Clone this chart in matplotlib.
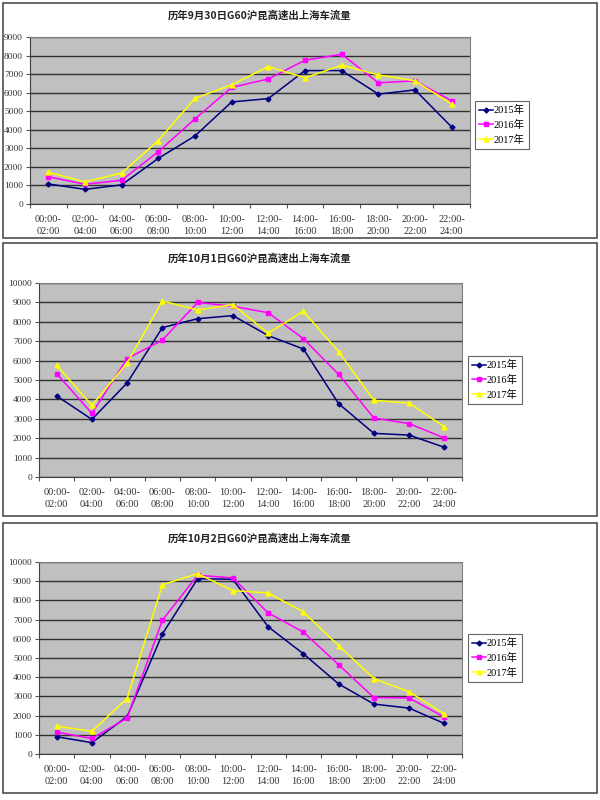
import matplotlib
matplotlib.use("Agg")
import matplotlib.pyplot as plt
from matplotlib.patches import Rectangle
from matplotlib.ticker import MultipleLocator

W, H = 600, 800

slots = ["00:00-\n02:00", "02:00-\n04:00", "04:00-\n06:00", "06:00-\n08:00",
         "08:00-\n10:00", "10:00-\n12:00", "12:00-\n14:00", "14:00-\n16:00",
         "16:00-\n18:00", "18:00-\n20:00", "20:00-\n22:00", "22:00-\n24:00"]
years = ["2015年", "2016年", "2017年"]

titles = ["历年9月30日G60沪昆高速出上海车流量",
          "历年10月1日G60沪昆高速出上海车流量",
          "历年10月2日G60沪昆高速出上海车流量"]

sep30_2015 = [1080, 790, 1030, 2460, 3670, 5500, 5680, 7190, 7190, 5920, 6150, 4150]
sep30_2016 = [1470, 1060, 1280, 2820, 4590, 6280, 6740, 7750, 8070, 6530, 6640, 5560]
sep30_2017 = [1710, 1190, 1670, 3420, 5700, 6420, 7410, 6800, 7480, 6960, 6640, 5380]

oct1_2015 = [4180, 2970, 4850, 7700, 8160, 8320, 7290, 6600, 3780, 2250, 2160, 1530]
oct1_2016 = [5330, 3280, 6100, 7060, 9000, 8800, 8470, 7130, 5290, 3040, 2750, 2010]
oct1_2017 = [5760, 3690, 5880, 9070, 8610, 8880, 7410, 8540, 6460, 3950, 3810, 2580]

oct2_2015 = [900, 590, 1950, 6250, 9130, 9100, 6630, 5220, 3650, 2600, 2390, 1590]
oct2_2016 = [1140, 810, 1870, 6970, 9310, 9170, 7350, 6350, 4650, 2940, 2920, 1920]
oct2_2017 = [1450, 1180, 2890, 8820, 9390, 8510, 8390, 7400, 5640, 3930, 3240, 2090]

panels = [
    dict(series=[sep30_2015, sep30_2016, sep30_2017], ymax=9000,
         frame=(3, 3, 597, 238), plot=(30, 37, 470, 204), leg=(475, 125)),
    dict(series=[oct1_2015, oct1_2016, oct1_2017], ymax=10000,
         frame=(3, 243, 597, 516), plot=(39, 283, 462, 477), leg=(468, 380)),
    dict(series=[oct2_2015, oct2_2016, oct2_2017], ymax=10000,
         frame=(3, 523, 597, 793), plot=(39, 562, 462, 754), leg=(468, 658)),
]

colors = ["#000080", "#FF00FF", "#FFFF00"]
markers = ["D", "s", "^"]
msizes = [2.5, 3, 3.5]

serif = ["Liberation Serif", "Noto Sans CJK SC"]
cjk = ["Noto Sans CJK SC", "DejaVu Sans"]

fig = plt.figure(figsize=(W / 100, H / 100), dpi=100)
fig.patch.set_facecolor("white")


def fx(x):
    return x / W


def fy(y):
    return 1 - y / H


for i, p in enumerate(panels):
    x0, y0, x1, y1 = p["frame"]
    fig.patches.append(Rectangle((fx(x0), fy(y1)), fx(x1 - x0), (y1 - y0) / H,
                                 transform=fig.transFigure, fill=False,
                                 edgecolor="#505050", linewidth=1.2))
    px0, py0, px1, py1 = p["plot"]
    ax = fig.add_axes([fx(px0), fy(py1), fx(px1 - px0), (py1 - py0) / H])
    ax.set_facecolor("#C0C0C0")
    ax.set_xlim(-0.5, len(slots) - 0.5)
    ax.set_ylim(0, p["ymax"])
    ax.yaxis.set_major_locator(MultipleLocator(1000))
    ax.grid(axis="y", color="#303030", linewidth=1.0)
    ax.set_axisbelow(True)

    for s, name, c, m, ms in zip(p["series"], years, colors, markers, msizes):
        ax.plot(range(len(slots)), s, color=c, marker=m, markersize=ms,
                linewidth=1.1, label=name)

    # category axis: ticks between categories, labels at centres
    ax.set_xticks([k - 0.5 for k in range(len(slots) + 1)])
    ax.set_xticklabels([])
    ax.set_xticks(range(len(slots)), minor=True)
    ax.set_xticklabels(slots, minor=True, fontsize=7.5, family=serif,
                       color="#333333", linespacing=1.4)
    ax.tick_params(axis="x", which="major", length=3, direction="out",
                   color="#555555")
    ax.tick_params(axis="x", which="minor", length=0, pad=8)
    ax.tick_params(axis="y", length=3, pad=2, color="#555555", labelsize=6.8,
                   labelcolor="#333333")
    for lab in ax.get_yticklabels():
        lab.set_family(serif)
    for side in ["top", "right"]:
        ax.spines[side].set_color("#808080")
    for side in ["left", "bottom"]:
        ax.spines[side].set_color("#404040")

    fig.text(fx((x0 + x1) / 2 - 40), fy(y0 + 13 if i == 0 else y0 + 16),
             titles[i], ha="center", va="center", fontsize=7.5,
             fontweight="bold", family=cjk, color="#222222")

    lx, ly = p["leg"]
    leg = ax.legend(loc="center left", bbox_to_anchor=(fx(lx), fy(ly)),
                    bbox_transform=fig.transFigure, frameon=True,
                    fancybox=False, prop={"family": serif, "size": 7.5},
                    handlelength=1.3, handletextpad=0.1, borderpad=0.4,
                    labelspacing=0.45, borderaxespad=0)
    leg.get_frame().set_edgecolor("#404040")
    leg.get_frame().set_linewidth(0.8)

fig.savefig("out.png", dpi=100, facecolor="white")
